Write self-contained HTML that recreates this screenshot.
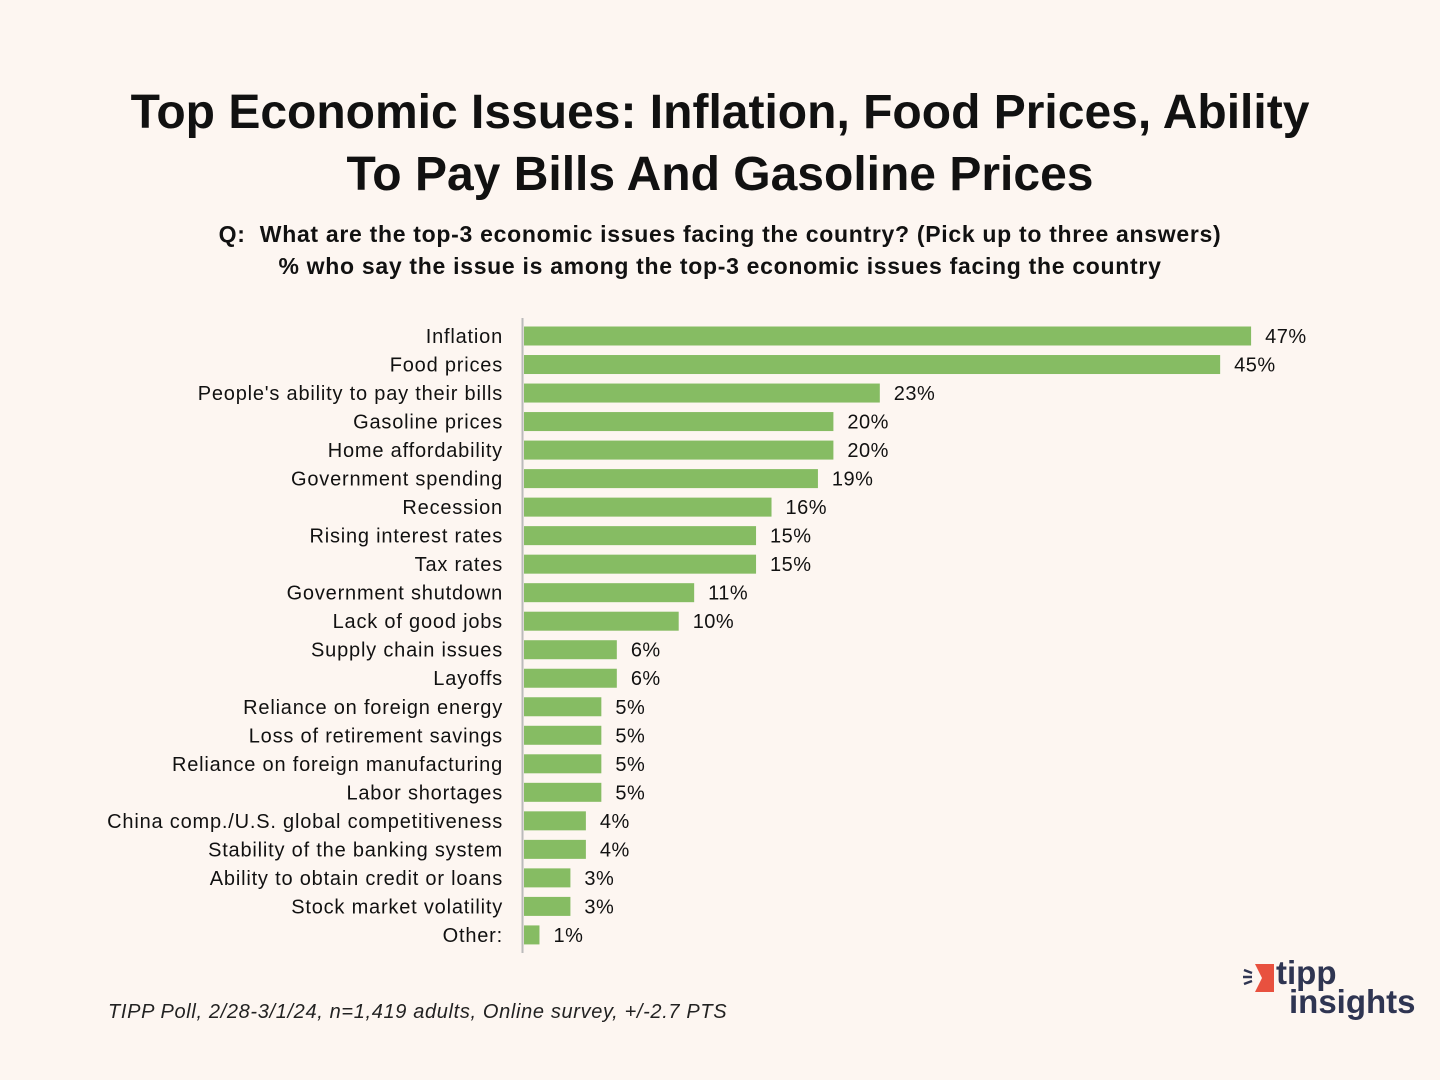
<!DOCTYPE html>
<html><head><meta charset="utf-8"><style>
html,body{margin:0;padding:0;background:#fdf6f1;}
body{width:1440px;height:1080px;position:relative;overflow:hidden;font-family:"Liberation Sans","DejaVu Sans",sans-serif;}
.t{position:absolute;left:0;width:1440px;text-align:center;color:#111;}
</style></head><body>
<div class="t" style="top:82px;font-size:48px;font-weight:bold;line-height:62px;">Top Economic Issues: Inflation, Food Prices, Ability<br>To Pay Bills And Gasoline Prices</div>
<div class="t" style="top:218px;font-size:23px;font-weight:bold;line-height:32px;letter-spacing:0.7px;">Q:&nbsp; What are the top-3 economic issues facing the country? (Pick up to three answers)<br>% who say the issue is among the top-3 economic issues facing the country</div>
<svg id="chart" width="1440" height="1080" style="position:absolute;left:0;top:0"></svg>
<div style="position:absolute;left:108px;top:1001px;font-size:20px;font-style:italic;color:#222;letter-spacing:0.65px;">TIPP Poll, 2/28-3/1/24, n=1,419 adults, Online survey, +/-2.7 PTS</div>
<div style="position:absolute;left:1242px;top:960px;width:180px;height:64px;">
<svg width="50" height="34" style="position:absolute;left:0;top:2px"><g stroke="#2f3552" stroke-width="2.5"><line x1="2" y1="8" x2="10" y2="11"/><line x1="1" y1="15" x2="10" y2="15"/><line x1="2" y1="22" x2="10" y2="19"/></g><polygon points="13,2 32,2 32,30 13,30 20,16" fill="#e8513f"/></svg>
<div style="position:absolute;left:34px;top:-4px;font-size:33px;font-weight:bold;color:#2f3552;line-height:34px;">tipp</div>
<div style="position:absolute;left:47px;top:25px;font-size:33px;font-weight:bold;color:#2f3552;line-height:34px;">insights</div>
</div>
<script>
const categories=["Inflation","Food prices","People's ability to pay their bills","Gasoline prices","Home affordability","Government spending","Recession","Rising interest rates","Tax rates","Government shutdown","Lack of good jobs","Supply chain issues","Layoffs","Reliance on foreign energy","Loss of retirement savings","Reliance on foreign manufacturing","Labor shortages","China comp./U.S. global competitiveness","Stability of the banking system","Ability to obtain credit or loans","Stock market volatility","Other:"];
const values=[47,45,23,20,20,19,16,15,15,11,10,6,6,5,5,5,5,4,4,3,3,1];
const NS="http://www.w3.org/2000/svg";
const svg=document.getElementById('chart');
const x0=524, pxPer=15.47, y0=336, pitch=28.52, bh=19;
const xScale=v=>x0+v*pxPer;
const yScale=i=>y0+i*pitch;
function mk(tag,attrs){const e=document.createElementNS(NS,tag);for(const k in attrs)e.setAttribute(k,attrs[k]);svg.appendChild(e);return e;}
categories.forEach((c,i)=>{
  const y=yScale(i);
  const r=mk('rect',{x:x0,y:y-bh/2,width:xScale(values[i])-x0,height:bh,fill:'#86bc63'});
  
  
  const l=mk('text',{x:503,y:y+7,'text-anchor':'end','font-size':20,fill:'#111','font-family':'Liberation Sans, sans-serif','letter-spacing':'0.8'});
  l.textContent=c;
  
  
  const v=mk('text',{x:xScale(values[i])+14,y:y+7,'font-size':20,fill:'#111','font-family':'Liberation Sans, sans-serif','letter-spacing':'0.5'});
  v.textContent=values[i]+'%';
  
  
});
const ax=mk('line',{x1:522.5,y1:318,x2:522.5,y2:953,stroke:'#bbb','stroke-width':2});


</script>
</body></html>
